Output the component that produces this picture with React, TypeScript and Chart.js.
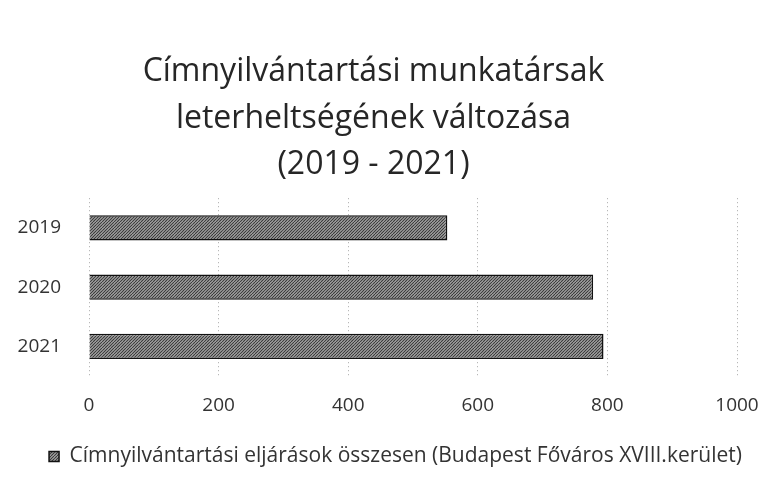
import React, { useEffect, useRef } from "react";
import { Chart, registerables } from "chart.js";

Chart.register(...registerables);

const categories = ["2019", "2020", "2021"];
const values = [553, 778, 794];
const seriesLabel = "Címnyilvántartási eljárások összesen (Budapest Főváros XVIII.kerület)";
const titleLines = ["Címnyilvántartási munkatársak", "leterheltségének változása", "(2019 - 2021)"];
const xMin = 0;
const xMax = 1000;
const xStep = 200;

function makePattern(): CanvasPattern | string {
  const c = document.createElement("canvas");
  c.width = 6;
  c.height = 6;
  const g = c.getContext("2d");
  if (!g) return "#777";
  g.fillStyle = "#b4b4b4";
  g.fillRect(0, 0, 6, 6);
  g.strokeStyle = "#3a3a3a";
  g.lineWidth = 1.2;
  for (let k = -6; k <= 12; k += 3) {
    g.beginPath();
    g.moveTo(k, 6);
    g.lineTo(k + 6, 0);
    g.stroke();
  }
  const p = g.createPattern(c, "repeat");
  return p || "#777";
}

const legendShift = {
  id: "legendShift",
  afterLayout(chart: any) {
    const lg = chart.legend;
    if (lg) {
      lg.left += 22;
      lg.right += 22;
      lg.top -= 2;
      lg.bottom -= 2;
    }
  },
};

export default function App() {
  const ref = useRef<HTMLCanvasElement | null>(null);
  useEffect(() => {
    document.body.style.margin = "0";
    const canvas = ref.current;
    if (!canvas) return;
    const pattern = makePattern();
    const font = "'Open Sans', sans-serif";
    const chart = new Chart(canvas, {
      type: "bar",
      data: {
        labels: categories,
        datasets: [
          {
            label: seriesLabel,
            data: values,
            backgroundColor: pattern as any,
            borderColor: "#111",
            borderWidth: 1.5,
            barPercentage: 0.85,
            categoryPercentage: 0.5,
          },
        ],
      },
      plugins: [legendShift],
      options: {
        indexAxis: "y",
        responsive: false,
        animation: false,
        layout: { padding: { left: 10, right: 42, top: 41, bottom: 12 } },
        plugins: {
          title: {
            display: true,
            text: titleLines,
            color: "#262626",
            font: { family: font, size: 32, weight: "normal", lineHeight: 1.45 },
            padding: { top: 8, bottom: 10 },
          },
          legend: {
            display: true,
            position: "bottom",
            labels: {
              color: "#333",
              font: { family: font, size: 21 },
              boxWidth: 10,
              boxHeight: 10,
              padding: 10,
            },
          },
          tooltip: { enabled: false },
        },
        scales: {
          x: {
            min: xMin,
            max: xMax,
            ticks: {
              stepSize: xStep,
              color: "#333",
              font: { family: font, size: 19 },
              padding: 18,
              callback: (v: any) => String(v),
            },
            grid: {
              color: "#a8a8a8",
              lineWidth: 1,
              drawTicks: false,
            },
            border: { display: false, dash: [1, 3] },
            afterFit: (s: any) => {
              s.height = 62;
            },
          },
          y: {
            ticks: {
              color: "#333",
              font: { family: font, size: 19 },
              padding: 20,
            },
            grid: { display: false },
            border: { display: false },
            afterFit: (s: any) => {
              s.width = 79;
            },
          },
        },
      },
    });
    return () => chart.destroy();
  }, []);
  return (
    <div style={{ position: "absolute", left: 0, top: 0, width: 779, height: 491, background: "#fff" }}>
      <canvas ref={ref} width={779} height={491} />
    </div>
  );
}
